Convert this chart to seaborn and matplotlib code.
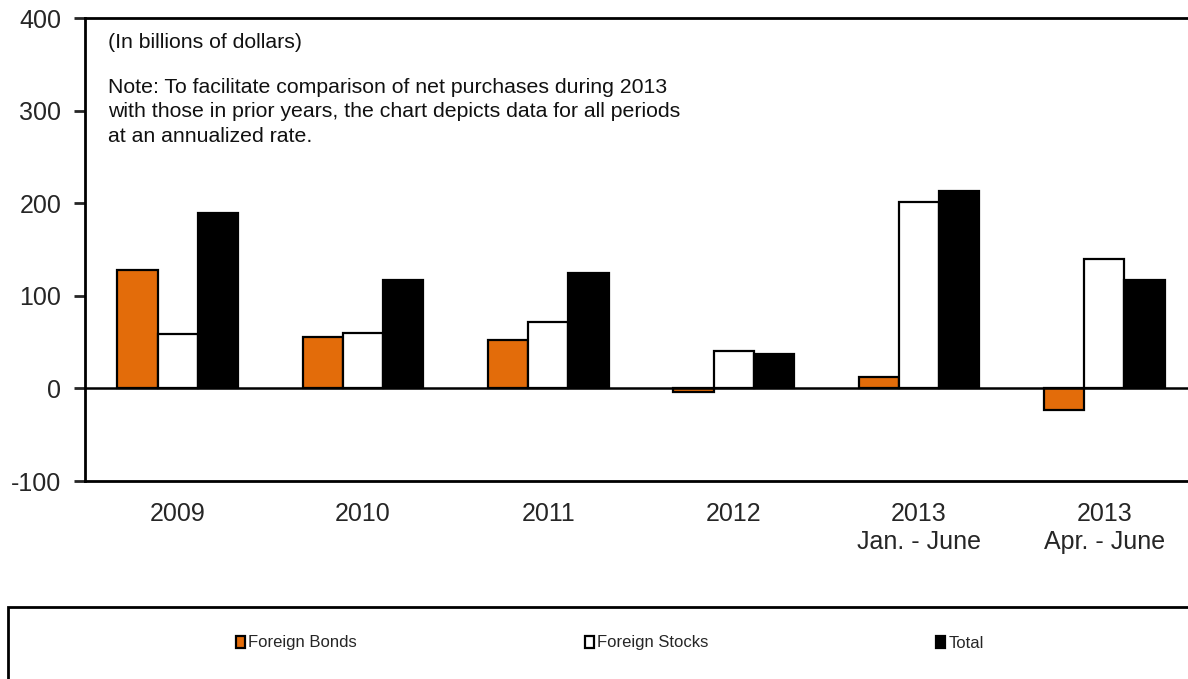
import matplotlib
matplotlib.use("Agg")
import matplotlib.pyplot as plt
from matplotlib.patches import Rectangle
import pandas as pd
import seaborn as sns

# Net purchases of foreign securities, annualized (billions of dollars)
periods = ["2009", "2010", "2011", "2012", "2013\nJan. - June", "2013\nApr. - June"]
foreign_bonds = [128, 55, 52, -4, 12, -23]
foreign_stocks = [59, 60, 72, 40, 201, 140]
total = [189, 117, 125, 37, 213, 117]
series_names = ["Foreign Bonds", "Foreign Stocks", "Total"]
series_colors = ["#E36C0A", "#FFFFFF", "#000000"]
y_ticks = [-100, 0, 100, 200, 300, 400]

df = pd.DataFrame({
    "period": periods * 3,
    "series": [series_names[0]] * 6 + [series_names[1]] * 6 + [series_names[2]] * 6,
    "value": foreign_bonds + foreign_stocks + total,
})

sns.set_style("white")
plt.rcParams["font.family"] = ["Liberation Sans", "DejaVu Sans"]

W, H = 1188, 679
fig = plt.figure(figsize=(W / 100, H / 100), dpi=100)
ax = fig.add_axes([85 / W, 1 - 481 / H, 1112 / W, (481 - 18) / H])

sns.barplot(
    data=df, x="period", y="value", hue="series",
    hue_order=series_names, palette=series_colors, saturation=1,
    width=0.65, edgecolor="black", linewidth=1.6, ax=ax,
)

ax.set_xlim(-0.5, 5.5)
ax.set_ylim(-100, 400)
ax.set_yticks(y_ticks)
ax.set_yticklabels([str(v) for v in y_ticks], fontsize=18)
ax.tick_params(axis="y", direction="out", length=8, width=2, pad=9, left=True)
ax.tick_params(axis="x", length=0, labelsize=18, pad=15)
for lbl in ax.get_xticklabels():
    lbl.set_linespacing(1.2)
ax.set_xlabel("")
ax.set_ylabel("")
for side in ["left", "bottom", "top", "right"]:
    ax.spines[side].set_visible(True)
    ax.spines[side].set_linewidth(2)
    ax.spines[side].set_color("black")
ax.axhline(0, color="black", linewidth=1.8, zorder=1)

fig.text(108 / W, 1 - 42 / H, "(In billions of dollars)",
         fontsize=15.3, va="center", ha="left", color="#111111")
fig.text(108 / W, 1 - 78 / H,
         "Note: To facilitate comparison of net purchases during 2013\n"
         "with those in prior years, the chart depicts data for all periods\n"
         "at an annualized rate.",
         fontsize=15.3, va="top", ha="left", linespacing=1.36, color="#111111")

handles, labels = ax.get_legend_handles_labels()
if ax.get_legend() is not None:
    ax.get_legend().remove()

# Legend panel below the chart
fig.patches.append(Rectangle((8 / W, -0.1), 1.2, 0.1 + (H - 607) / H,
                             transform=fig.transFigure, fill=False,
                             edgecolor="black", linewidth=2))
fig.legend(handles, labels, loc="center left", ncol=3,
           bbox_to_anchor=(236 / W, 1 - 643 / H), frameon=False,
           prop={"size": 12}, handlelength=0.55, handleheight=0.75,
           handletextpad=0.2, columnspacing=13.65, borderaxespad=0, borderpad=0)

fig.savefig("out.png", dpi=100)
